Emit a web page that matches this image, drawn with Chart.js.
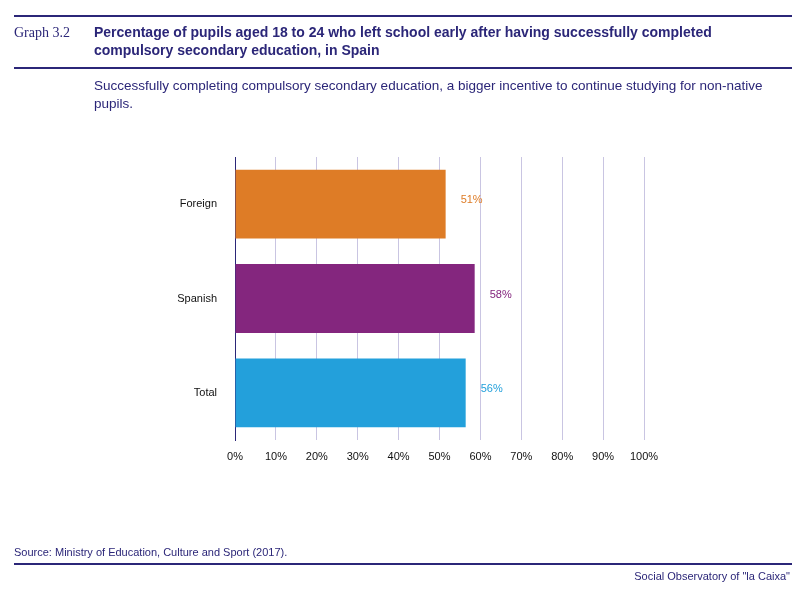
<!DOCTYPE html>
<html>
<head>
<meta charset="utf-8">
<script src="https://cdn.jsdelivr.net/npm/chart.js@4"></script>
<style>
  body { margin: 0; width: 800px; height: 591px; position: relative; background: #fff; font-family: "Liberation Sans", Arial, sans-serif; color: #2b2678; overflow: hidden; }
  .rule { position: absolute; left: 14px; right: 8px; height: 2px; background: #2b2678; }
  .abs { position: absolute; }
  #wrap { position: absolute; left: 0; top: 0; width: 800px; height: 591px; }
</style>
</head>
<body>
<div id="wrap"><canvas id="barChart"></canvas></div>
<div class="rule" style="top:15px"></div>
<div class="abs" style="left:14px;top:25px;font-family:'Liberation Serif',serif;font-size:14px;">Graph 3.2</div>
<div class="abs" style="left:94px;top:23px;font-weight:bold;font-size:14px;line-height:18px;width:690px;">Percentage of pupils aged 18 to 24 who left school early after having successfully completed compulsory secondary education, in Spain</div>
<div class="rule" style="top:67px"></div>
<div class="abs" style="left:94px;top:77px;font-size:13.5px;line-height:18px;width:690px;">Successfully completing compulsory secondary education, a bigger incentive to continue studying for non-native pupils.</div>
<div class="abs" style="left:14px;top:546px;font-size:11px;">Source: Ministry of Education, Culture and Sport (2017).</div>
<div class="rule" style="top:563px"></div>
<div class="abs" style="right:10px;top:570px;font-size:11px;">Social Observatory of "la Caixa"</div>
<script>
const categories = ['Foreign', 'Spanish', 'Total'];
const values = [51.5, 58.6, 56.4];
const valueLabels = ['51%', '58%', '56%'];
const colors = ['#de7c26', '#84267e', '#23a0db'];
const tickValues = [0, 10, 20, 30, 40, 50, 60, 70, 80, 90, 100];

const barLabels = {
  id: 'barLabels',
  afterDatasetsDraw(chart) {
    const ctx = chart.ctx;
    const meta = chart.getDatasetMeta(0);
    ctx.save();
    ctx.font = '11px "Liberation Sans", Arial, sans-serif';
    ctx.textBaseline = 'middle';
    meta.data.forEach((bar, i) => {
      ctx.fillStyle = colors[i];
      ctx.fillText(valueLabels[i], bar.x + 15, bar.y - 4);
    });
    ctx.restore();
  }
};

new Chart(document.getElementById('barChart'), {
  type: 'bar',
  data: {
    labels: categories,
    datasets: [{
      data: values,
      backgroundColor: colors,
      barPercentage: 0.73,
      categoryPercentage: 1
    }]
  },
  options: {
    indexAxis: 'y',
    responsive: true,
    maintainAspectRatio: false,
    animation: false,
    layout: { padding: { top: 157, right: 156, left: 0, bottom: 0 } },
    plugins: { legend: { display: false }, tooltip: { enabled: false } },
    scales: {
      x: {
        min: 0, max: 100,
        afterBuildTicks: (axis) => { axis.ticks = tickValues.map(v => ({ value: v })); },
        afterFit: (axis) => { axis.height = 151; },
        border: { display: false },
        grid: { color: '#c9c5e2', lineWidth: 1, drawTicks: false },
        ticks: { padding: 10, color: '#111', font: { size: 11, family: '"Liberation Sans", Arial, sans-serif' }, callback: v => v + '%' }
      },
      y: {
        afterFit: (axis) => { axis.width = 235; },
        border: { color: '#2b2678', width: 1 },
        grid: { display: false },
        ticks: { padding: 10, color: '#111', font: { size: 11, family: '"Liberation Sans", Arial, sans-serif' } }
      }
    }
  },
  plugins: [barLabels]
});
</script>
</body>
</html>
